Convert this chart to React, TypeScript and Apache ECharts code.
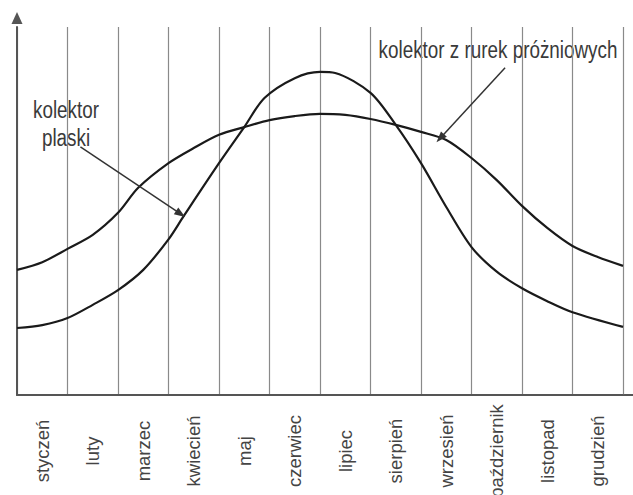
import React, { useEffect, useRef } from "react";
import * as echarts from "echarts";

const months = [
  "styczeń", "luty", "marzec", "kwiecień", "maj", "czerwiec",
  "lipiec", "sierpień", "wrzesień", "październik", "listopad", "grudzień",
];

// x in months from start of year (0..12), y in relative units (0..100)
const vacuumX = [0, 0.5, 1.0, 1.5, 2.0, 2.4, 3.0, 3.5, 4.0, 4.5, 5.0, 5.5, 6.0, 6.5, 7.0, 7.5, 8.0, 8.5, 9.0, 9.5, 10.0, 10.5, 11.0, 11.5, 12];
const vacuumY = [34.0, 36.1, 39.7, 43.5, 49.5, 56.3, 63.0, 67.1, 70.7, 72.8, 74.7, 75.8, 76.4, 76.1, 75.0, 73.4, 71.5, 69.3, 64.4, 58.4, 51.4, 45.4, 40.5, 37.5, 35.1];

const flatX = [0, 0.5, 1.0, 1.5, 2.0, 2.5, 3.0, 3.3, 4.0, 4.5, 4.9, 5.5, 6.0, 6.3, 7.0, 7.5, 8.0, 8.5, 9.0, 9.5, 10.0, 10.5, 11.0, 12];
const flatY = [18.2, 19.0, 20.9, 24.5, 28.5, 34.0, 42.3, 48.6, 63.0, 72.8, 80.7, 86.1, 87.8, 87.5, 82.1, 73.4, 63.0, 51.1, 40.2, 33.5, 29.0, 25.5, 22.5, 18.5];

const flatLabel = "kolektor\nplaski";
const vacuumLabel = "kolektor z rurek próżniowych";
const flatArrow = [[1.256, 67.4], [3.24, 49.2]];
const vacuumArrow = [[9.665, 88.9], [8.38, 69.8]];

const FONT = '"Liberation Sans", Arial, sans-serif';

export default function App() {
  const ref = useRef<HTMLDivElement>(null);
  useEffect(() => {
    if (!ref.current) return;
    const chart = echarts.init(ref.current, null, { renderer: "svg" });
    const zip = (xs: number[], ys: number[]) => xs.map((x, i) => [x, ys[i]]);
    const arrowLine = (pts: number[][]) => ({
      silent: true,
      symbol: ["none", "triangle"],
      symbolSize: [8, 11],
      label: { show: false },
      lineStyle: { color: "#333", width: 1.5, type: "solid" },
      data: [[{ coord: pts[0] }, { coord: pts[1] }]],
    });
    chart.setOption({
      animation: false,
      backgroundColor: "#fff",
      grid: { left: 17, right: 10, top: 27, bottom: 100, outerBoundsMode: "none", containLabel: false },
      xAxis: [
        {
          type: "category",
          data: months,
          boundaryGap: true,
          axisLine: { show: true, lineStyle: { color: "#555", width: 2 } },
          axisTick: { show: false },
          splitLine: { show: true, interval: 0, lineStyle: { color: "#8a8a8a", width: 1.2 } },
          axisLabel: {
            interval: 0,
            rotate: 90,
            align: "center",
            verticalAlign: "middle",
            margin: 56,
            color: "#444",
            fontSize: 18.5,
            fontFamily: FONT,
          },
        },
        { type: "value", min: 0, max: 12, show: false },
      ],
      yAxis: {
        type: "value",
        min: 0,
        max: 100,
        axisLine: {
          show: true,
          symbol: ["none", "triangle"],
          symbolSize: [11, 12],
          symbolOffset: [0, 9],
          lineStyle: { color: "#555", width: 2 },
        },
        axisTick: { show: false },
        axisLabel: { show: false },
        splitLine: { show: false },
      },
      graphic: [
        { type: "line", shape: { x1: 622, y1: 395, x2: 633, y2: 395 }, style: { stroke: "#555", lineWidth: 2 } },
        {
          type: "text", x: 498, y: 50, scaleX: 0.82,
          style: { text: vacuumLabel, fill: "#3a3a3a", font: `23px ${FONT}`, textAlign: "center", textVerticalAlign: "middle" },
        },
        {
          type: "text", x: 66, y: 124, scaleX: 0.82,
          style: { text: flatLabel, fill: "#3a3a3a", font: `23px ${FONT}`, lineHeight: 28, textAlign: "center", textVerticalAlign: "middle" },
        },
      ],
      series: [
        {
          type: "line",
          name: "kolektor z rurek próżniowych",
          xAxisIndex: 1,
          data: zip(vacuumX, vacuumY),
          smooth: 0.3,
          showSymbol: false,
          lineStyle: { color: "#1a1a1a", width: 2.2 },
          markLine: arrowLine(vacuumArrow),
        },
        {
          type: "line",
          name: "kolektor plaski",
          xAxisIndex: 1,
          data: zip(flatX, flatY),
          smooth: 0.3,
          showSymbol: false,
          lineStyle: { color: "#1a1a1a", width: 2.2 },
          markLine: arrowLine(flatArrow),
        },
      ],
    });
    return () => chart.dispose();
  }, []);
  return (
    <div
      ref={ref}
      style={{ position: "fixed", left: 0, top: 0, width: 633, height: 495, background: "#fff" }}
    />
  );
}
